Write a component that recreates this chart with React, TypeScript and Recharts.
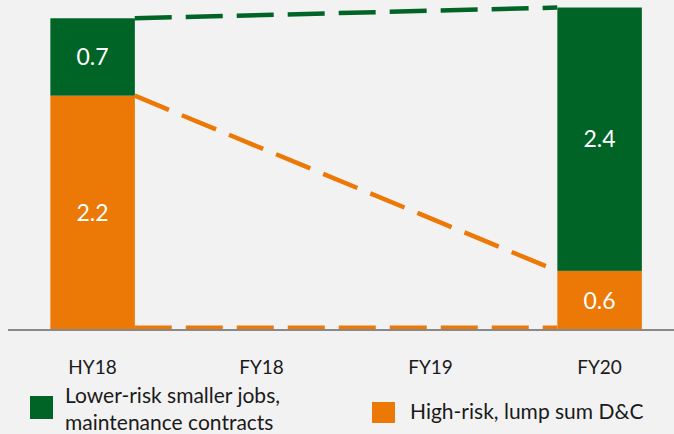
import { ComposedChart, Bar, Line, XAxis, YAxis, LabelList } from "recharts";

const categories = ["HY18", "FY18", "FY19", "FY20"];
const lowerRisk = [0.72, null, null, 2.45];
const highRisk = [2.18, null, null, 0.55];
const lowerRiskLabels = ["0.7", "", "", "2.4"];
const highRiskLabels = ["2.2", "", "", "0.6"];
const baselineLevel = 0.02;

const GREEN = "#006427";
const ORANGE = "#EC7805";
const BG = "#F2F2F2";

// each category sits in the middle of a unit slot on a numeric x axis
const data = categories.map((name, i) => ({
  pos: i + 0.5,
  name,
  low: lowerRisk[i],
  high: highRisk[i],
  lowLabel: lowerRiskLabels[i],
  highLabel: highRiskLabels[i],
}));
const tickPositions = data.map((d) => d.pos);

// connectors run from the right edge of the first bar to the left edge of the last
const barFraction = 0.5;
const first = 0;
const last = categories.length - 1;
const x0 = data[first].pos + barFraction / 2;
const x1 = data[last].pos - barFraction / 2;

const greenLine = [
  { pos: x0, y: (highRisk[first] ?? 0) + (lowerRisk[first] ?? 0) },
  { pos: x1, y: (highRisk[last] ?? 0) + (lowerRisk[last] ?? 0) },
];
const orangeLine = [
  { pos: x0, y: highRisk[first] ?? 0 },
  { pos: x1, y: highRisk[last] ?? 0 },
];
const bottomLine = [
  { pos: x0, y: baselineLevel },
  { pos: x1, y: baselineLevel },
];

const font = "Lato, 'Open Sans', sans-serif";
const PLOT_W = 676;
const BAR_W = (PLOT_W / categories.length) * barFraction;

// recharts sizes bars on a number axis from its own band guess; re-centre at our width
const WideBar = (props: any) => {
  const { x, y, width, height, fill } = props;
  if (!height || height <= 0) return null;
  const cx = x + width / 2;
  return <rect x={cx - BAR_W / 2} y={y} width={BAR_W} height={height} fill={fill} />;
};

export default function App() {
  return (
    <div
      style={{
        position: "absolute",
        left: 0,
        top: 0,
        width: 674,
        height: 434,
        overflow: "hidden",
        background: BG,
        fontFamily: font,
      }}
    >
      <ComposedChart
        width={PLOT_W + 8}
        height={434}
        data={data}
        margin={{ top: 0, right: 0, left: 8, bottom: 64 }}
      >
        <XAxis
          dataKey="pos"
          type="number"
          domain={[0, categories.length]}
          ticks={tickPositions}
          tickFormatter={(v: number) => categories[Math.floor(v)]}
          height={40}
          tickLine={false}
          tickMargin={25}
          interval={0}
          axisLine={{ stroke: "#898989", strokeWidth: 2 }}
          tick={{ fill: "#1a1a1a", fontSize: 19, fontFamily: font }}
        />
        <YAxis hide domain={[0, 3.07]} allowDataOverflow />

        <Line
          data={greenLine}
          dataKey="y"
          stroke={GREEN}
          strokeWidth={4.5}
          strokeDasharray="37 14"
          dot={false}
          activeDot={false}
          isAnimationActive={false}
        />
        <Line
          data={orangeLine}
          dataKey="y"
          stroke={ORANGE}
          strokeWidth={4.5}
          strokeDasharray="37 14"
          dot={false}
          activeDot={false}
          isAnimationActive={false}
        />
        <Line
          data={bottomLine}
          dataKey="y"
          stroke={ORANGE}
          strokeWidth={4.5}
          strokeDasharray="37 14"
          dot={false}
          activeDot={false}
          isAnimationActive={false}
        />

        <Bar dataKey="high" stackId="a" fill={ORANGE} shape={WideBar} isAnimationActive={false}>
          <LabelList dataKey="highLabel" position="center" fill="#fff" fontSize={23} fontFamily={font} />
        </Bar>
        <Bar dataKey="low" stackId="a" fill={GREEN} shape={WideBar} isAnimationActive={false}>
          <LabelList dataKey="lowLabel" position="center" fill="#fff" fontSize={23} fontFamily={font} />
        </Bar>
      </ComposedChart>

      {/* legend */}
      <div style={{ position: "absolute", left: 30, top: 396, width: 23, height: 23, background: GREEN }} />
      <div
        style={{
          position: "absolute",
          left: 65,
          top: 382,
          fontSize: 21,
          lineHeight: "26.5px",
          color: "#1a1a1a",
          whiteSpace: "nowrap",
        }}
      >
        Lower-risk smaller jobs,
        <br />
        maintenance contracts
      </div>
      <div style={{ position: "absolute", left: 372, top: 402, width: 23, height: 21, background: ORANGE }} />
      <div
        style={{
          position: "absolute",
          left: 410,
          top: 397,
          fontSize: 21,
          lineHeight: "28px",
          color: "#1a1a1a",
          whiteSpace: "nowrap",
        }}
      >
        High-risk, lump sum D&amp;C
      </div>
    </div>
  );
}
